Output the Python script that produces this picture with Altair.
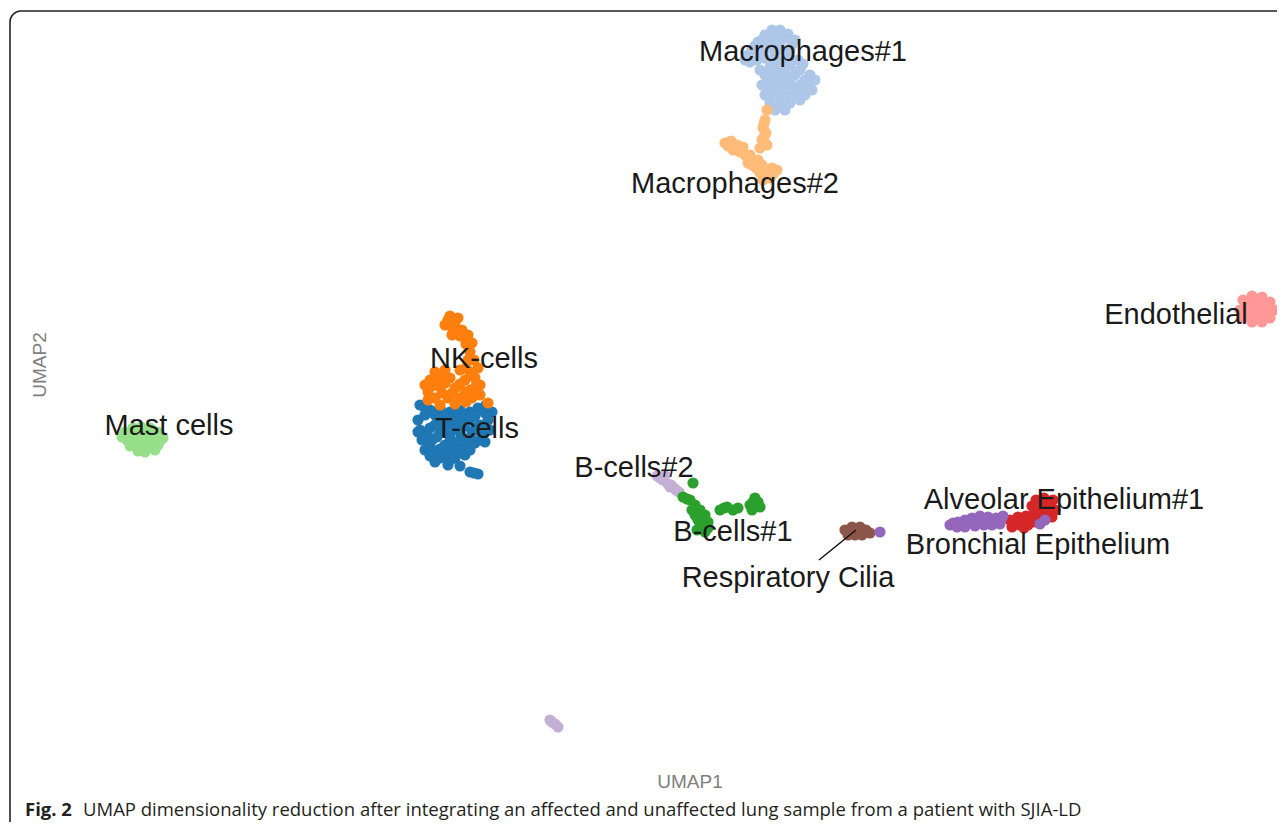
import altair as alt
import pandas as pd

# ---- cluster point coordinates (UMAP1, UMAP2) ----
mast_cells = [(12.5, 36.8), (13.3, 37.2), (14.1, 37.3), (15.0, 37.2), (15.8, 36.8), (16.3, 36.2),
              (15.5, 36.0), (14.5, 36.0), (13.5, 36.2), (12.7, 36.0), (13.0, 35.4), (14.0, 35.3),
              (15.0, 35.3), (15.8, 35.5), (14.5, 34.8),
              (12.9, 36.5), (13.7, 36.7), (14.6, 36.7), (15.4, 36.5), (16.0, 35.9), (12.2, 36.3),
              (13.5, 35.6), (14.5, 35.4), (15.5, 35.0), (13.8, 34.9)]
endothelial = [(124.3, 50.0), (125.2, 50.4), (126.2, 50.3), (127.0, 49.8), (127.4, 49.0), (127.0, 48.2),
               (126.2, 47.8), (125.2, 47.8), (124.3, 48.2), (124.0, 49.0), (125.0, 49.0), (126.0, 49.0),
               (124.7, 49.5), (125.7, 49.7), (126.7, 49.4), (124.7, 48.5), (125.7, 48.3), (126.7, 48.6)]
macrophages_1 = [(74.5, 74.0), (75.2, 75.0), (75.8, 75.8), (76.5, 76.5), (77.2, 77.0), (78.0, 77.0),
                 (78.8, 76.6), (79.5, 76.0), (79.0, 75.0), (78.0, 75.5), (77.0, 75.5), (76.0, 74.5),
                 (75.0, 73.8), (76.5, 74.2), (77.5, 74.3), (78.5, 74.0), (79.8, 74.0), (80.3, 73.6),
                 (76.0, 73.0), (77.0, 73.2), (78.0, 73.2), (79.0, 73.4), (80.0, 73.0), (81.0, 72.5),
                 (81.5, 72.0), (80.8, 71.2), (80.0, 71.5), (79.0, 72.0), (78.0, 72.0), (77.0, 71.8),
                 (76.2, 71.5), (76.5, 70.5), (77.5, 70.7), (78.5, 70.8), (79.5, 70.5), (80.5, 70.5),
                 (81.2, 71.0), (77.0, 69.7), (78.0, 69.5), (79.0, 69.7), (80.0, 70.0), (77.5, 69.0),
                 (78.5, 69.0),
                 (74.8, 74.5), (75.5, 75.4), (76.2, 76.0), (76.8, 76.2), (77.6, 76.3), (78.4, 76.2),
                 (79.2, 75.5), (78.5, 74.8), (77.5, 74.8), (76.5, 75.0), (75.7, 74.0), (77.0, 73.8),
                 (78.0, 73.8), (79.0, 74.2), (76.5, 72.5), (77.5, 72.5), (78.5, 72.6), (79.5, 72.5),
                 (80.5, 72.0), (79.5, 71.2), (78.5, 71.4), (77.5, 71.3), (76.7, 71.0), (77.0, 70.3),
                 (78.0, 70.2), (79.0, 70.2), (80.0, 70.8), (80.8, 71.7)]
macrophages_2 = [(76.7, 69.0), (76.5, 68.0), (76.3, 67.2), (76.6, 66.7), (76.2, 66.0), (76.7, 65.5),
                 (76.0, 65.2), (72.5, 65.7), (73.1, 65.9), (73.7, 65.5), (74.3, 65.3), (73.3, 65.0),
                 (74.0, 64.8), (75.0, 64.5), (74.8, 63.7), (75.3, 64.0), (75.6, 63.2), (76.2, 63.5),
                 (76.0, 62.7), (76.7, 62.8), (77.2, 63.2), (77.7, 63.0), (77.0, 62.2), (76.3, 62.0),
                 (76.4, 67.6), (76.4, 66.3), (72.8, 65.4), (74.5, 64.5), (75.2, 63.5), (75.8, 64.0),
                 (76.5, 62.4), (77.3, 62.6), (73.6, 65.2)]
t_cells = [(42.0, 39.5), (43.0, 39.0), (44.0, 39.2), (45.0, 38.8), (46.0, 39.0), (47.0, 38.8),
           (47.8, 39.2), (48.6, 39.5), (49.2, 38.8), (48.8, 38.0), (48.0, 37.5), (47.0, 38.0),
           (46.0, 38.0), (45.0, 37.6), (44.0, 38.0), (42.5, 38.5), (41.8, 38.0), (42.0, 37.0),
           (43.0, 37.2), (44.0, 36.8), (45.0, 36.4), (46.0, 36.8), (47.2, 36.8), (48.2, 36.5),
           (49.0, 37.0), (48.5, 35.8), (47.5, 35.7), (46.5, 35.5), (45.5, 35.3), (44.5, 35.5),
           (43.2, 36.0), (42.2, 36.0), (42.5, 35.0), (43.5, 34.8), (44.5, 34.5), (45.5, 34.2),
           (46.5, 34.5), (43.5, 33.8), (44.8, 33.5), (46.0, 33.4), (47.0, 32.8), (47.8, 32.6),
           (42.5, 39.2), (43.5, 38.5), (44.5, 38.4), (45.5, 38.4), (46.5, 38.5), (47.5, 38.4),
           (48.5, 38.7), (43.5, 37.5), (44.5, 37.2), (45.5, 37.2), (46.5, 37.4), (47.6, 37.2),
           (48.5, 37.2), (42.7, 36.5), (43.7, 36.3), (45.0, 35.9), (46.0, 36.0), (47.0, 36.2),
           (48.0, 36.0), (41.8, 36.8), (43.0, 35.4), (44.0, 35.1), (45.0, 34.9), (46.0, 34.9),
           (47.0, 35.0), (44.0, 34.2), (45.0, 34.0), (43.0, 34.4), (47.4, 32.7)]
nk_cells = [(45.0, 48.4), (45.8, 48.2), (44.5, 47.5), (45.5, 47.4), (46.2, 47.0), (46.8, 46.5),
            (45.2, 46.5), (47.2, 45.7), (47.0, 44.8), (47.4, 44.0), (47.8, 43.2), (46.0, 43.0),
            (44.5, 43.0), (43.5, 42.8), (43.0, 42.0), (44.0, 42.2), (45.0, 42.2), (46.5, 42.0),
            (47.5, 42.2), (48.0, 41.5), (47.0, 41.0), (45.5, 41.2), (44.0, 41.3), (42.8, 40.8),
            (43.5, 40.2), (44.8, 40.2), (46.0, 40.2), (47.2, 40.2), (48.8, 39.7), (48.0, 40.5),
            (44.0, 39.5), (45.5, 39.6),
            (44.8, 48.0), (45.3, 47.0), (46.0, 46.4), (46.6, 45.6), (46.8, 44.0), (46.6, 43.2),
            (47.0, 42.8), (43.8, 41.8), (44.5, 41.7), (46.0, 41.6), (47.6, 41.4), (43.2, 41.4),
            (44.2, 40.7), (45.2, 40.7), (46.5, 40.8), (47.6, 40.8), (42.8, 40.0), (46.6, 39.8),
            (42.5, 41.5)]
b_cells_2 = [(65.7, 32.4), (66.3, 32.0), (66.8, 31.6), (67.4, 31.2), (67.9, 30.8), (66.5, 32.5),
             (67.0, 31.3), (66.0, 32.2), (67.1, 31.5), (67.6, 31.0),
             (55.0, 8.0), (55.5, 7.6), (55.8, 7.3), (55.2, 7.8)]
b_cells_1 = [(69.3, 31.7), (68.3, 30.3), (69.0, 30.0), (69.5, 29.5), (70.0, 29.0), (69.5, 28.5),
             (70.5, 28.5), (69.8, 28.0), (70.8, 27.8), (70.0, 27.3), (70.5, 26.8), (72.0, 29.0),
             (72.7, 29.3), (73.3, 29.0), (73.8, 29.2), (75.0, 29.5), (75.5, 30.2), (75.8, 29.8),
             (75.2, 29.0), (76.0, 29.3),
             (68.7, 30.1), (69.2, 29.0), (70.2, 28.1), (70.8, 27.2), (69.7, 27.0), (72.4, 29.2),
             (75.6, 29.4), (75.3, 29.8)]
respiratory_cilia = [(84.5, 27.0), (85.2, 27.3), (86.0, 27.3), (86.6, 27.0), (87.0, 26.7), (85.5, 26.5),
                     (84.8, 26.5), (86.2, 26.5), (85.7, 27.0), (85.0, 26.9), (86.4, 26.8)]
alveolar_epithelium_1 = [(101.0, 28.0), (101.8, 28.3), (102.6, 28.4), (103.4, 28.6), (104.0, 29.2),
                         (104.8, 29.5), (105.5, 29.0), (105.3, 30.0), (104.4, 30.2), (103.6, 30.0),
                         (103.2, 29.4), (101.2, 27.3), (102.0, 27.5), (102.8, 27.5), (103.5, 27.8),
                         (104.4, 28.5), (105.2, 28.3),
                         (101.5, 27.8), (102.3, 28.0), (103.1, 28.1), (103.9, 28.3), (104.8, 28.9),
                         (104.0, 29.7), (105.0, 29.7), (102.4, 27.2)]
bronchial_epithelium = [(95.0, 27.5), (95.8, 27.8), (96.5, 28.0), (97.2, 28.2), (98.0, 28.4), (98.8, 28.3),
                        (99.6, 28.2), (100.3, 28.4), (100.0, 27.6), (99.2, 27.5), (98.4, 27.5),
                        (97.5, 27.4), (96.5, 27.3), (95.7, 27.3), (104.0, 27.6), (104.5, 28.0),
                        (88.0, 26.8),
                        (95.3, 27.7), (96.1, 27.6), (96.9, 27.8), (97.7, 27.9), (98.5, 27.9),
                        (99.3, 27.9), (100.1, 28.0)]

cluster_names = ["Mast cells", "Endothelial", "Macrophages#1", "Macrophages#2", "T-cells", "NK-cells",
                 "B-cells#2", "B-cells#1", "Respiratory Cilia", "Alveolar Epithelium#1",
                 "Bronchial Epithelium"]
cluster_points = [mast_cells, endothelial, macrophages_1, macrophages_2, t_cells, nk_cells,
                  b_cells_2, b_cells_1, respiratory_cilia, alveolar_epithelium_1, bronchial_epithelium]
cluster_colors = ["#98df8a", "#ff9896", "#aec7e8", "#ffbb78", "#1f77b4", "#ff7f0e",
                  "#c5b0d5", "#2ca02c", "#8c564b", "#d62728", "#9467bd"]

# ---- cluster labels ----
label_text = ["Macrophages#1", "Macrophages#2", "Endothelial", "NK-cells", "Mast cells", "T-cells",
              "B-cells#2", "Alveolar Epithelium#1", "B-cells#1", "Bronchial Epithelium",
              "Respiratory Cilia"]
label_u1 = [80.3, 73.5, 117.6, 48.4, 16.9, 47.7, 63.4, 106.4, 73.3, 103.8, 78.8]
label_u2 = [74.85, 61.65, 48.55, 44.15, 37.45, 37.15, 33.25, 30.05, 26.85, 25.55, 22.25]

# leader line for Respiratory Cilia
leader_u1 = [81.9]
leader_u2 = [24.0]
leader_u1_end = [85.6]
leader_u2_end = [27.0]

caption_bold = "Fig. 2"
caption_text = ("UMAP dimensionality reduction after integrating an affected and unaffected "
                "lung sample from a patient with SJIA-LD")

rows = []
for name, pts in zip(cluster_names, cluster_points):
    for (a, b) in pts:
        rows.append({"cluster": name, "u1": a, "u2": b})
pts_df = pd.DataFrame(rows)

xs = alt.Scale(domain=[0.8, 127.7], nice=False, zero=False)
ys = alt.Scale(domain=[-2.2, 79.2], nice=False, zero=False)
X = lambda f="u1": alt.X(f"{f}:Q", scale=xs, axis=None)
Y = lambda f="u2": alt.Y(f"{f}:Q", scale=ys, axis=None)

points = alt.Chart(pts_df).mark_circle(size=125, opacity=1).encode(
    x=X(), y=Y(),
    color=alt.Color("cluster:N", scale=alt.Scale(domain=cluster_names, range=cluster_colors),
                    legend=None),
)

leader = alt.Chart(pd.DataFrame({"u1": leader_u1, "u2": leader_u2,
                                 "u1e": leader_u1_end, "u2e": leader_u2_end})).mark_rule(
    color="#111111", strokeWidth=1.5).encode(
    x=X(), y=Y(), x2="u1e:Q", y2="u2e:Q")

labels = alt.Chart(pd.DataFrame({"t": label_text, "u1": label_u1, "u2": label_u2})).mark_text(
    font="Liberation Sans", fontSize=29, color="#1a1a1a", align="center", baseline="middle"
).encode(x=X(), y=Y(), text="t:N")

xtitle = alt.Chart(pd.DataFrame({"t": ["UMAP1"], "u1": [69.0], "u2": [1.85]})).mark_text(
    font="Liberation Sans", fontSize=19, color="#808080", align="center", baseline="middle"
).encode(x=X(), y=Y(), text="t:N")

ytitle = alt.Chart(pd.DataFrame({"t": ["UMAP2"], "u1": [4.0], "u2": [43.5]})).mark_text(
    font="Liberation Sans", fontSize=19, color="#808080", align="center", baseline="middle",
    angle=270
).encode(x=X(), y=Y(), text="t:N")

cap_b = alt.Chart(pd.DataFrame({"t": [caption_bold], "u1": [2.5], "u2": [-1.6]})).mark_text(
    font="Open Sans", fontSize=18.5, fontWeight="bold", color="#231f20", align="left",
    baseline="alphabetic"
).encode(x=X(), y=Y(), text="t:N")

cap_r = alt.Chart(pd.DataFrame({"t": [caption_text], "u1": [8.3], "u2": [-1.6]})).mark_text(
    font="Open Sans", fontSize=18.5, color="#231f20", align="left", baseline="alphabetic"
).encode(x=X(), y=Y(), text="t:N")

frame = alt.Chart(pd.DataFrame({"k": [0]})).mark_rect(
    fillOpacity=0, stroke="#222222", strokeWidth=1.6, cornerRadius=11
).encode(x=alt.value(2), x2=alt.value(1400), y=alt.value(3), y2=alt.value(826))

chart = alt.layer(frame, points, leader, labels, xtitle, ytitle, cap_b, cap_r).properties(
    width=1269, height=814, padding=0,
    autosize=alt.AutoSizeParams(type="none"),
).configure_view(stroke=None)

chart.save("out.html", embed_options={"renderer": "svg", "actions": False})
